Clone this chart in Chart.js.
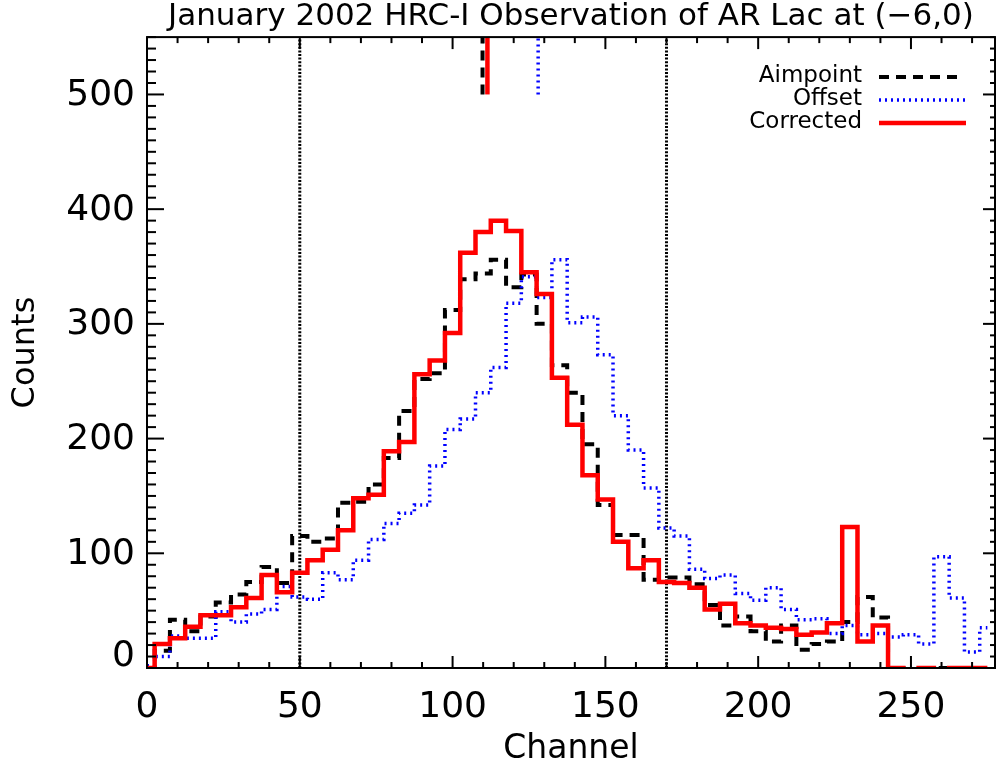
<!DOCTYPE html>
<html>
<head>
<meta charset="utf-8">
<title>AR Lac HRC-I</title>
<script src="https://cdn.jsdelivr.net/npm/chart.js@4.4.1/dist/chart.umd.min.js"></script>
<style>
  body { margin: 0; background: #fff; }
  canvas { display: block; }
</style>
</head>
<body>
<canvas id="grafico" width="997" height="772"></canvas>
<script>
//Centro de cada bin (5 canales por bin)
const canales = [0, 5, 10, 15, 20, 25, 30, 35, 40, 45, 50, 55, 60, 65, 70, 75, 80, 85, 90, 95,
  100, 105, 110, 115, 120, 125, 130, 135, 140, 145, 150, 155, 160, 165, 170, 175, 180, 185, 190, 195,
  200, 205, 210, 215, 220, 225, 230, 235, 240, 245, 250, 255, 260, 265, 270, 275]

//Cuentas por bin
const aimpoint = [0, 15, 42, 32, 45, 57, 64, 75, 88, 74, 115, 110, 113, 144, 145, 160, 183, 224, 252, 257,
  312, 339, 344, 356, 332, 343, 300, 264, 240, 195, 142, 116, 116, 77, 79, 79, 73, 55, 37, 45,
  32, 23, 37, 16, 21, 23, 40, 62, 44, 0, -4, 0, 0, 0, 0, 0]
const offset = [2, 10, 28, 26, 26, 49, 40, 47, 51, 71, 62, 60, 83, 77, 94, 112, 126, 135, 142, 176,
  208, 217, 240, 262, 318, 341, 323, 356, 301, 306, 273, 220, 190, 157, 122, 115, 86, 78, 81, 65,
  59, 70, 51, 42, 43, 30, 37, 29, 30, 27, 29, 21, 97, 61, 14, 35]
const corrected = [0, 21, 26, 36, 46, 46, 53, 61, 81, 66, 83, 94, 103, 120, 148, 151, 189, 197, 256, 268,
  292, 362, 380, 390, 381, 345, 326, 253, 212, 168, 147, 110, 87, 94, 75, 74, 70, 51, 56, 39,
  37, 35, 34, 29, 31, 39, 123, 23, 37, 0, -4, 0, -3, 0, 0, 0]

//Centroide de cada serie (marca corta arriba) y su rango en Y
const centroides = [109.8, 128, 111.4]
const marcaY = [500, 550]

//Limites del rango de canales
const corteCanales = [50, 170]

//Etiquetas del eje Y
const etiquetasY = [0, 100, 200, 300, 400, 500]

const etiquetas = ['Aimpoint', 'Offset', 'Corrected']
const titulo = 'January 2002 HRC-I Observation of AR Lac at (\u22126,0)'

//Estilo de linea de cada serie
const estilos = [
  {color: '#000000', ancho: 4, guion: [10, 7], largo: 79},
  {color: '#0000ff', ancho: 3.5, guion: [2, 4], largo: 87},
  {color: '#ff0000', ancho: 4.5, guion: [], largo: 87}
]

let puntos = (valores) => canales.map((c, i) => ({x: c, y: valores[i]}))
let vertical = (x, y0, y1) => [{x: x, y: y0}, {x: x, y: y1}]

let datasets = []
let series = [aimpoint, offset, corrected]

series.forEach((valores, i) => {
  let e = estilos[i]
  datasets.push({
    label: etiquetas[i],
    data: puntos(valores),
    stepped: 'middle',
    borderColor: e.color,
    borderWidth: e.ancho,
    borderDash: e.guion,
    pointRadius: 0,
    order: 3 - i
  })
  datasets.push({
    label: etiquetas[i] + ' centroide',
    data: vertical(centroides[i], marcaY[0], marcaY[1]),
    borderColor: e.color,
    borderWidth: e.ancho,
    borderDash: e.guion,
    pointRadius: 0,
    order: 3 - i
  })
})

corteCanales.forEach(c => {
  datasets.push({
    label: 'corte ' + c,
    data: vertical(c, 0, 550),
    borderColor: '#000000',
    borderWidth: 3,
    borderDash: [2, 1.6],
    pointRadius: 0,
    order: 5
  })
})

let linea = (ctx, x0, y0, x1, y1) => {
  ctx.beginPath()
  ctx.moveTo(x0, y0)
  ctx.lineTo(x1, y1)
  ctx.stroke()
}

//Marco con ticks hacia adentro, etiquetas del eje Y y leyenda
const marco = {
  id: 'marco',
  afterDraw(chart) {
    const {ctx, chartArea: a, scales: {x, y}} = chart
    ctx.save()
    ctx.strokeStyle = '#000'
    ctx.lineWidth = 2
    ctx.setLineDash([])
    ctx.strokeRect(a.left, a.top, a.right - a.left, a.bottom - a.top)

    for (let v = 0; v <= x.max; v += 10) {
      let px = x.getPixelForValue(v)
      let largo = v % 50 === 0 ? 12 : 6
      linea(ctx, px, a.bottom, px, a.bottom - largo)
      linea(ctx, px, a.top, px, a.top + largo)
    }
    for (let v = 0; v <= y.max; v += 10) {
      let py = y.getPixelForValue(v)
      let mayor = v % 100 === 0
      linea(ctx, a.left, py, a.left + (mayor ? 17 : 9), py)
      linea(ctx, a.right, py, a.right - (mayor ? 12 : 5), py)
    }

    //Etiquetas Y (la del cero queda un poco arriba del eje)
    ctx.fillStyle = '#000'
    ctx.font = '36px "DejaVu Sans"'
    ctx.textAlign = 'right'
    ctx.textBaseline = 'middle'
    etiquetasY.forEach(v => {
      let py = Math.min(y.getPixelForValue(v), a.bottom - 12)
      ctx.fillText(String(v), a.left - 12, py + 1)
    })

    //Leyenda
    ctx.font = '23px "DejaVu Sans"'
    etiquetas.forEach((texto, i) => {
      let e = estilos[i]
      let fy = a.top + 39 + i * 23
      ctx.fillText(texto, a.right - 133, fy)
      ctx.strokeStyle = e.color
      ctx.lineWidth = e.ancho
      ctx.setLineDash(e.guion)
      linea(ctx, a.right - 116, fy + 1, a.right - 116 + e.largo, fy + 1)
    })
    ctx.restore()
  }
}

Chart.defaults.font.family = '"DejaVu Sans"'
Chart.defaults.color = '#000'

new Chart(document.getElementById('grafico'), {
  type: 'line',
  data: {datasets: datasets},
  options: {
    responsive: false,
    animation: false,
    layout: {padding: {top: 0, right: 2, left: 0, bottom: 0}},
    plugins: {
      legend: {display: false},
      tooltip: {enabled: false},
      title: {
        display: true,
        text: titulo,
        fullSize: false,
        font: {size: 31, weight: 'normal', lineHeight: 1.1},
        padding: {top: 0, bottom: 3}
      }
    },
    scales: {
      x: {
        type: 'linear',
        min: 0,
        max: 277.5,
        grid: {display: false, drawTicks: false},
        border: {display: false},
        ticks: {stepSize: 50, includeBounds: false, font: {size: 36}, padding: 18, maxRotation: 0},
        title: {display: true, text: 'Channel', font: {size: 33}, padding: {top: 0, bottom: 3}},
        afterFit: (scale) => { scale.height = 104 }
      },
      y: {
        type: 'linear',
        min: 0,
        max: 550,
        grid: {display: false, drawTicks: false},
        border: {display: false},
        ticks: {display: false, stepSize: 100},
        title: {display: true, text: 'Counts', font: {size: 32}, padding: {top: 6, bottom: 6}},
        afterFit: (scale) => { scale.width = 147 }
      }
    }
  },
  plugins: [marco]
})
</script>
</body>
</html>
